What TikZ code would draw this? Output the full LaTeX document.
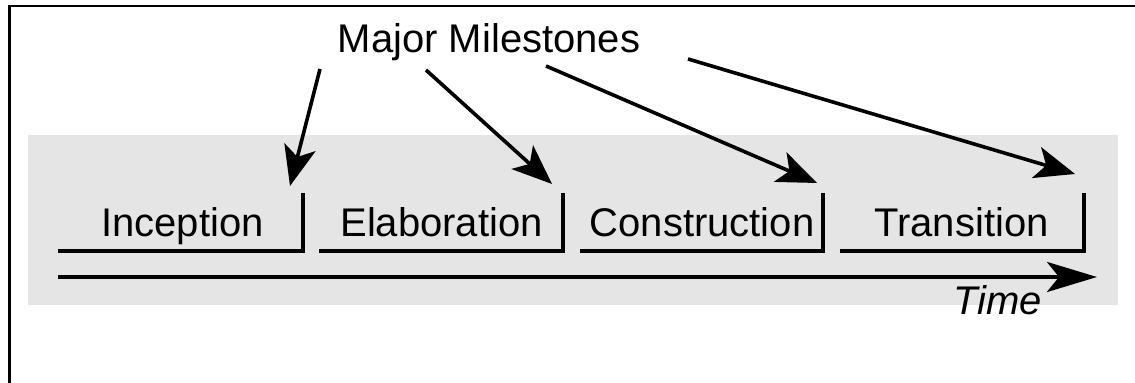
\documentclass[tikz,border=0pt]{standalone}
\usepackage{fontspec}
\setmainfont{Liberation Sans}
\usetikzlibrary{arrows.meta}

\tikzset{
  phase/.style={line width=2pt},
  milestone/.style={line width=1.8pt, -{Stealth[length=20pt,width=16pt,inset=5pt]}},
  timeline/.style={line width=2pt, -{Stealth[length=25pt,width=15pt,inset=6pt]}},
  lbl/.style={anchor=base, inner sep=0pt, font=\fontsize{20}{24}\selectfont}
}

\begin{document}
\begin{tikzpicture}[x=0.5pt,y=0.5pt,yscale=-1]
    \useasboundingbox (0,0) rectangle (1135,383);

    % frame
    \draw [line width=1.3pt] (9.5,383) -- (9.5,6.2) -- (1135,6.2);
    % background band
    \fill [black!10] (28,135) rectangle (1118,305);

    % Text Node
    \node [lbl] (maj) at (489,53) {Major Milestones};
    % Text Node
    \node [lbl] (inc) at (182.5,237) {Inception};
    % Text Node
    \node [lbl] (ela) at (441.5,237) {Elaboration};
    % Text Node
    \node [lbl] (con) at (702,237) {Construction};
    % Text Node
    \node [lbl] (tra) at (961.5,237) {Transition};
    % Text Node
    \node [lbl, font=\fontsize{20}{24}\selectfont\itshape] (time) at (997.5,315) {Time};

    % milestone points
    \coordinate (m1) at (303,193);
    \coordinate (m2) at (563,193);
    \coordinate (m3) at (823,193);
    \coordinate (m4) at (1084,193);

    % phase brackets
    \draw [phase] (58,251) -| (m1);
    \draw [phase] (319,251) -| (m2);
    \draw [phase] (580,251) -| (m3);
    \draw [phase] (840,251) -| (m4);

    % time axis
    \coordinate (t0) at (58,277);
    \coordinate (t1) at (1097,277);
    \draw [timeline] (t0) -- (t1);

    % arrows from the label
    \coordinate (s1) at (320,69);
    \coordinate (s2) at (426,70);
    \coordinate (s3) at (546,66);
    \coordinate (s4) at (688,59);
    \coordinate (e1) at (290,186);
    \coordinate (e2) at (552,184);
    \coordinate (e3) at (817,183);
    \coordinate (e4) at (1075,174);
    \draw [milestone] (s1) -- (e1);
    \draw [milestone] (s2) -- (e2);
    \draw [milestone] (s3) -- (e3);
    \draw [milestone] (s4) -- (e4);

\end{tikzpicture}
\end{document}
